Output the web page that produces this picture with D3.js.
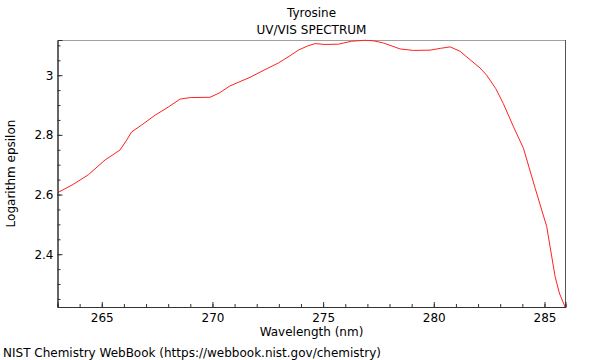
<!DOCTYPE html>
<html><head><meta charset="utf-8">
<script src="https://cdn.jsdelivr.net/npm/d3@7"></script>
<style>body{margin:0;background:#fff}svg{display:block}text{font-family:"DejaVu Sans",sans-serif;fill:#000}</style>
</head><body><svg id="c" width="600" height="360"></svg>
<script>
const title = "Tyrosine";
const subtitle = "UV/VIS SPECTRUM";
const xLabel = "Wavelength (nm)";
const yLabel = "Logarithm epsilon";
const footer = "NIST Chemistry WebBook (https://webbook.nist.gov/chemistry)";
const wavelength = [263.0, 263.71, 264.39, 265.15, 265.82, 266.13, 266.35, 266.8, 267.41, 268.0, 268.54, 269.0, 269.89, 270.3, 270.79, 271.7, 272.38, 272.98, 273.5, 273.88, 274.3, 274.64, 275.09, 275.69, 276.29, 276.9, 277.3, 277.72, 278.48, 279.08, 279.83, 280.3, 280.74, 281.19, 281.64, 282.09, 282.39, 282.8, 283.14, 283.6, 284.05, 284.58, 285.1, 285.48, 285.67, 285.93];
const logEps = [2.606, 2.634, 2.666, 2.716, 2.749, 2.783, 2.81, 2.833, 2.866, 2.893, 2.92, 2.925, 2.926, 2.94, 2.964, 2.993, 3.019, 3.041, 3.065, 3.084, 3.098, 3.106, 3.103, 3.104, 3.114, 3.117, 3.115, 3.108, 3.088, 3.083, 3.084, 3.09, 3.095, 3.08, 3.052, 3.024, 3.0, 2.955, 2.905, 2.827, 2.755, 2.621, 2.493, 2.325, 2.27, 2.223];
const xTicks = [265, 270, 275, 280, 285];
const yTicks = [2.4, 2.6, 2.8, 3];

const svg = d3.select("#c");
const L = 57.5, R = 565.5, T = 40, B = 307;
const x = d3.scaleLinear().domain([263, 285.95]).range([L, R]);
const y = d3.scaleLinear().domain([2.223, 3.118]).range([B, T]);

// frame
svg.append("line").attr("x1", L).attr("x2", R).attr("y1", T + 0.5).attr("y2", T + 0.5).attr("stroke", "#a0a0a0").attr("stroke-width", 1.2);
svg.append("line").attr("x1", R).attr("x2", R).attr("y1", T).attr("y2", B).attr("stroke", "#555").attr("stroke-width", 1);

// curve
const pts = wavelength.map((w, i) => [w, logEps[i]]);
svg.append("path").datum(pts)
  .attr("d", d3.line().x(d => x(d[0])).y(d => y(d[1])).curve(d3.curveLinear))
  .attr("fill", "none").attr("stroke", "#ff2020").attr("stroke-width", 1);

// x axis
const xMinor = d3.range(263, 286, 1);
const gx = svg.append("g").attr("transform", `translate(0,${B})`);
gx.call(d3.axisBottom(x).tickValues(xMinor).tickSize(-3).tickFormat(""));
gx.selectAll(".tick line").attr("stroke", "#333");
gx.select(".domain").attr("stroke", "#333");
const gx2 = svg.append("g").attr("transform", `translate(0,${B})`);
gx2.call(d3.axisBottom(x).tickValues(xTicks).tickSize(-5).tickFormat(d3.format("d")).tickPadding(6));
gx2.selectAll(".domain").attr("stroke", "#333");
gx2.selectAll(".tick line").attr("stroke", "#333");
gx2.selectAll("text").attr("font-size", 12).attr("font-family", "DejaVu Sans");

// y axis
const yMinor = d3.range(2.25, 3.12, 0.05).map(v => +v.toFixed(2));
const gy = svg.append("g").attr("transform", `translate(${L},0)`);
gy.call(d3.axisLeft(y).tickValues(yMinor).tickSize(-3).tickFormat(""));
gy.selectAll(".tick line").attr("stroke", "#333");
gy.select(".domain").attr("stroke", "#333");
const gy2 = svg.append("g").attr("transform", `translate(${L},0)`);
gy2.call(d3.axisLeft(y).tickValues(yTicks).tickSize(-5).tickFormat(d => String(d)).tickPadding(4));
gy2.selectAll(".tick line").attr("stroke", "#333");
gy2.select(".domain").attr("stroke", "#333");
gy2.selectAll("text").attr("font-size", 12).attr("font-family", "DejaVu Sans");

// texts
const cx = (L + R) / 2;
svg.append("text").attr("x", cx).attr("y", 17).attr("text-anchor", "middle").attr("font-size", 12).text(title);
svg.append("text").attr("x", cx).attr("y", 34).attr("text-anchor", "middle").attr("font-size", 12).text(subtitle);
svg.append("text").attr("x", cx).attr("y", 336).attr("text-anchor", "middle").attr("font-size", 12).text(xLabel);
svg.append("text").attr("transform", `translate(15,${(T + B) / 2}) rotate(-90)`).attr("text-anchor", "middle").attr("font-size", 12).text(yLabel);
svg.append("text").attr("x", 3).attr("y", 357).attr("font-size", 12).text(footer);
</script></body></html>
